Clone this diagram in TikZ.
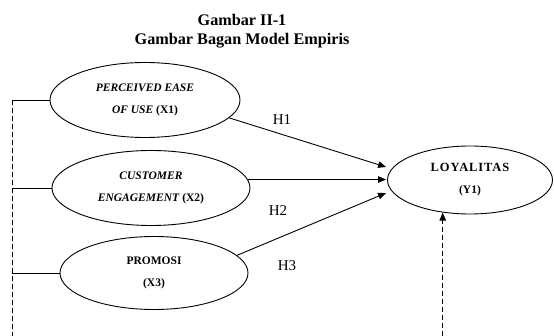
\documentclass[tikz,border=0pt]{standalone}
\usepackage{fontspec}
\setmainfont{Liberation Serif}
\usetikzlibrary{shapes.geometric,arrows.meta,calc}
\begin{document}
\begin{tikzpicture}[x=1pt,y=-1pt,
  var/.style={draw, ellipse, inner sep=0pt, align=center, line width=0.9pt,
    font=\fontsize{11.5}{22}\selectfont\bfseries},
  link/.style={line width=0.9pt},
  arr/.style={link, -{Triangle[length=8pt,width=6.5pt]}},
  dsh/.style={link, dash pattern=on 5pt off 3pt},
  hyp/.style={font=\fontsize{15}{18}\selectfont, inner sep=0pt},
  ttl/.style={font=\fontsize{16.2}{19}\selectfont\bfseries, anchor=base, inner sep=0pt}
]
\useasboundingbox (0,0) rectangle (554,336);
% title
\node[ttl] (t1) at (242,26) {Gambar II-1};
\node[ttl] (t2) at (242,45) {Gambar Bagan Model Empiris};
% variables
\node[var, minimum width=190pt, minimum height=75pt] (X1) at (145,100)
  {\textit{PERCEIVED EASE}\\\textit{OF USE} (X1)};
\node[var, minimum width=198pt, minimum height=75pt] (X2) at (151,188)
  {\textit{CUSTOMER}\\\textit{ENGAGEMENT} (X2)};
\node[var, minimum width=188pt, minimum height=73pt] (X3) at (154,273)
  {PROMOSI\\(X3)};
\node[var, minimum width=165pt, minimum height=68pt] (Y1) at (470,180)
  {{\fontsize{12.5}{22}\selectfont\addfontfeature{LetterSpace=7}LOYALITAS}\\(Y1)};
% hypotheses arrows
\draw[arr] (X1.-12) -- ([yshift=13pt,xshift=-1pt]Y1.west);
\draw[arr] (X2.5) -- ([xshift=-1pt]Y1.west |- X2.5);
\draw[arr] (X3.12) -- ([yshift=-13pt,xshift=-1pt]Y1.west);
% labels
\node[hyp] (h1) at (282,120) {H1};
\node[hyp] (h2) at (278,211) {H2};
\node[hyp] (h3) at (287,266) {H3};
% left bracket
\coordinate (lb) at (12,336);
\draw[link] (X1.west) -- (X1.west -| lb);
\draw[link] (X2.west) -- (X2.west -| lb);
\draw[link] (X3.west) -- (X3.west -| lb);
\draw[dsh] (X1.west -| lb) -- (lb);
% bottom dashed arrow to Y1
\coordinate (yb) at (Y1.230 |- lb);
\draw[dsh, -{Triangle[length=8pt,width=6.5pt]}] (yb) -- (Y1.230);
\end{tikzpicture}
\end{document}
